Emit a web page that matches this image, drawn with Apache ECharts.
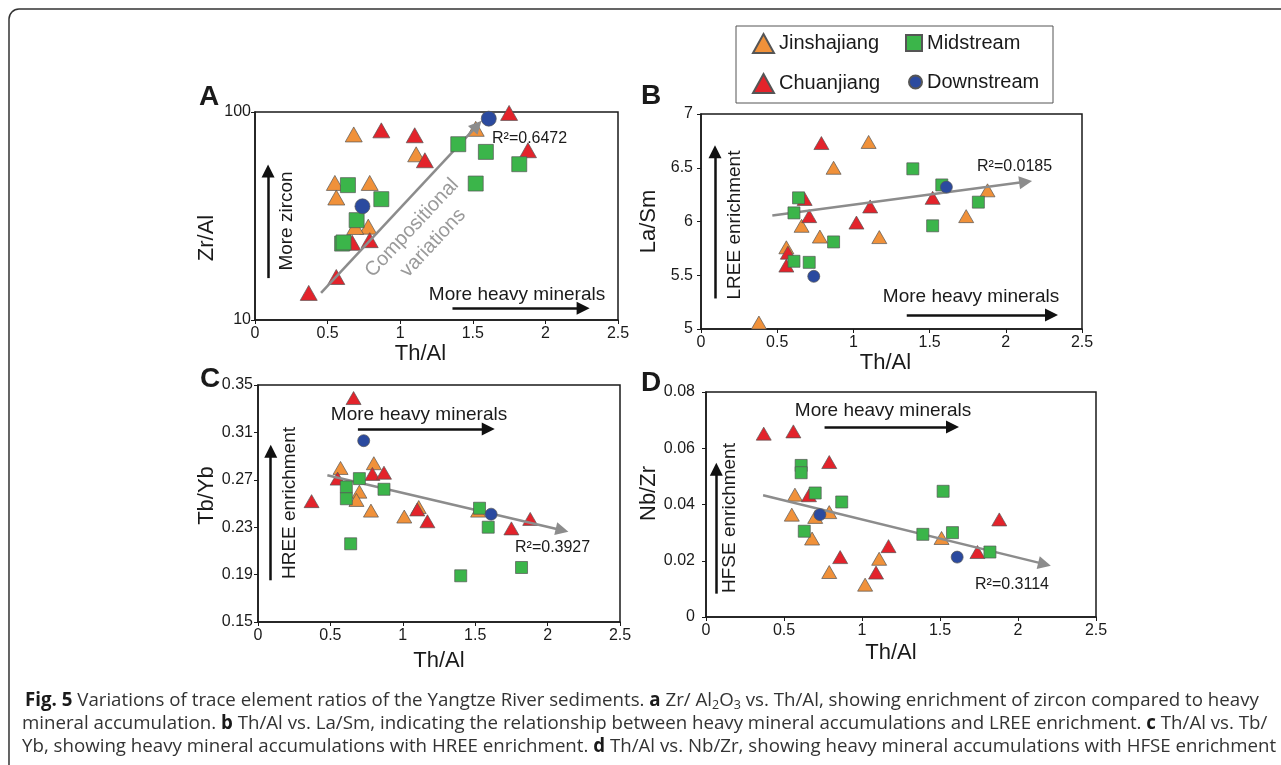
<!DOCTYPE html>
<html>
<head>
<meta charset="utf-8">
<script src="https://cdn.jsdelivr.net/npm/echarts@6.0.0/dist/echarts.min.js"></script>
<style>
  html, body { margin: 0; padding: 0; background: #fff; }
  #main { width: 1281px; height: 765px; }
</style>
</head>
<body>
<div id="main"></div>
<script>
var chartDom = document.getElementById('main');
var myChart = echarts.init(chartDom);
var option;

var FONT = 'Liberation Sans, Arial, Helvetica, sans-serif';
var CAP = 'Open Sans, Noto Sans, sans-serif';

var groups = ['Jinshajiang', 'Chuanjiang', 'Midstream', 'Downstream'];
var colors = ['#f0913a', '#e3232b', '#3bb54a', '#2b4a9f'];

// A: Zr/Al (log) vs Th/Al
var aJinshajiang = [[0.68, 78], [1.52, 83], [1.11, 62.6], [0.55, 45.6], [0.79, 45.6], [0.56, 38.8], [0.78, 28.1], [0.69, 28]];
var aChuanjiang = [[1.75, 99], [0.87, 81.6], [1.1, 77.3], [1.17, 58.6], [1.88, 65.5], [0.67, 23.5], [0.79, 24.2], [0.56, 16.1], [0.37, 13.5]];
var aMidstream = [[1.4, 70], [1.59, 64.3], [1.82, 56.1], [1.52, 45.3], [0.64, 44.5], [0.87, 38.1], [0.7, 30.2], [0.6, 23.3], [0.61, 23.6]];
var aDownstream = [[1.61, 92.9], [0.74, 35.2]];

// B: La/Sm vs Th/Al
var bJinshajiang = [[0.38, 5.06], [1.1, 6.74], [0.87, 6.5], [1.88, 6.29], [1.74, 6.05], [0.66, 5.96], [0.78, 5.86], [1.17, 5.855], [0.56, 5.76]];
var bChuanjiang = [[0.79, 6.73], [0.68, 6.21], [0.71, 6.05], [1.11, 6.14], [1.02, 5.99], [1.52, 6.22], [0.57, 5.71], [0.56, 5.59]];
var bMidstream = [[1.39, 6.49], [1.58, 6.34], [0.64, 6.22], [0.61, 6.08], [1.82, 6.18], [1.52, 5.96], [0.87, 5.81], [0.61, 5.63], [0.71, 5.62]];
var bDownstream = [[1.61, 6.32], [0.74, 5.49]];

// C: Tb/Yb vs Th/Al
var cJinshajiang = [[0.57, 0.280], [0.8, 0.284], [0.7, 0.260], [0.68, 0.253], [0.78, 0.244], [1.01, 0.239], [1.11, 0.247], [1.52, 0.244]];
var cChuanjiang = [[0.66, 0.339], [0.37, 0.252], [0.55, 0.271], [0.79, 0.275], [0.87, 0.276], [1.1, 0.245], [1.17, 0.235], [1.75, 0.229], [1.88, 0.237]];
var cMidstream = [[0.7, 0.271], [0.61, 0.264], [0.61, 0.254], [0.87, 0.262], [0.64, 0.216], [1.53, 0.246], [1.59, 0.23], [1.4, 0.189], [1.82, 0.196]];
var cDownstream = [[0.73, 0.303], [1.61, 0.241]];

// D: Nb/Zr vs Th/Al
var dJinshajiang = [[0.57, 0.0435], [0.55, 0.0364], [0.79, 0.0373], [0.7, 0.0356], [0.68, 0.0279], [1.51, 0.0281], [1.11, 0.0207], [0.79, 0.016], [1.02, 0.0115]];
var dChuanjiang = [[0.37, 0.0652], [0.56, 0.066], [0.79, 0.0551], [0.66, 0.0433], [1.88, 0.0347], [1.17, 0.0252], [0.86, 0.0213], [1.09, 0.0158], [1.74, 0.0231]];
var dMidstream = [[0.61, 0.0539], [0.61, 0.0513], [0.7, 0.0441], [0.87, 0.0409], [0.63, 0.0305], [1.52, 0.0447], [1.58, 0.03], [1.39, 0.0294], [1.82, 0.0231]];
var dDownstream = [[0.73, 0.0364], [1.61, 0.0213]];

// regression arrows (start, end) and R2 values
var trendA = [[0.455, 13.5], [1.53, 86]];
var trendB = [[0.468, 6.056], [2.13, 6.369]];
var trendC = [[0.479, 0.2739], [2.1, 0.2275]];
var trendD = [[0.366, 0.0433], [2.17, 0.0188]];
var r2Labels = ['R\u00b2=0.6472', 'R\u00b2=0.0185', 'R\u00b2=0.3927', 'R\u00b2=0.3114'];

var xTicks = ['0', '0.5', '1', '1.5', '2', '2.5'];
var yNames = ['Zr/Al', 'La/Sm', 'Tb/Yb', 'Nb/Zr'];

var panelData = [
  [aJinshajiang, aChuanjiang, aMidstream, aDownstream],
  [bJinshajiang, bChuanjiang, bMidstream, bDownstream],
  [cJinshajiang, cChuanjiang, cMidstream, cDownstream],
  [dJinshajiang, dChuanjiang, dMidstream, dDownstream]
];
var trends = [trendA, trendB, trendC, trendD];

// black annotation arrows, in data coords
var blackArrows = [
  [[[1.36, 11.4], [2.26, 11.4]], [[0.09, 15.9], [0.09, 52]]],
  [[[1.35, 5.13], [2.3, 5.13]], [[0.092, 5.284], [0.092, 6.65]]],
  [[[0.69, 0.3128], [1.59, 0.3128]], [[0.088, 0.1852], [0.088, 0.294]]],
  [[[0.76, 0.0676], [1.58, 0.0676]], [[0.066, 0.0083], [0.066, 0.0525]]]
];

var grids = [
  { left: 255, top: 112, width: 363, height: 208 },
  { left: 701, top: 114, width: 381, height: 215 },
  { left: 258, top: 385, width: 362, height: 237 },
  { left: 706, top: 392, width: 390, height: 225 }
];
var xNameGap = [21, 23, 28, 25];
var xNamePad = [[0, 32, 0, 0], [0, 12, 0, 0], [0, 0, 0, 0], [0, 20, 0, 0]];
var yNameGap = [37, 41, 40, 46];
var yNamePad = [[0, 44, 0, 0], [0, 0, 0, 0], [0, 0, 0, 16], [0, 0, 0, 22]];
var yLabelMargin = [4, 8, 5, 11];

var xAxes = grids.map(function (g, i) {
  return {
    gridIndex: i, type: 'value', min: 0, max: 2.5, interval: 0.5,
    name: 'Th/Al', nameLocation: 'middle', nameGap: xNameGap[i],
    nameTextStyle: { fontFamily: FONT, fontSize: 22, color: '#1a1a1a', verticalAlign: 'top', padding: xNamePad[i] },
    axisLine: { lineStyle: { color: '#1a1a1a', width: 1.5 } },
    axisTick: { length: 4, lineStyle: { color: '#1a1a1a' } },
    axisLabel: { fontFamily: FONT, fontSize: 16, color: '#1a1a1a', margin: 6,
      formatter: function (v) { return xTicks[Math.round(v / 0.5)]; } },
    splitLine: { show: false }
  };
});

var yAxes = [
  { type: 'log', logBase: 10, min: 10, max: 100 },
  { type: 'value', min: 5, max: 7, interval: 0.5 },
  { type: 'value', min: 0.15, max: 0.35, interval: 0.04,
    axisLabel: { formatter: function (v) { return v.toFixed(2); } } },
  { type: 'value', min: 0, max: 0.08, interval: 0.02,
    axisLabel: { formatter: function (v) { return v === 0 ? '0' : v.toFixed(2); } } }
].map(function (y, i) {
  return echarts.util.merge(y, {
    gridIndex: i,
    name: yNames[i], nameLocation: 'middle', nameGap: yNameGap[i], nameRotate: 90,
    nameTextStyle: { fontFamily: FONT, fontSize: 22, color: '#1a1a1a', padding: yNamePad[i] },
    axisLine: { show: true, lineStyle: { color: '#1a1a1a', width: 1.5 } },
    axisTick: { show: true, length: 4, lineStyle: { color: '#1a1a1a' } },
    axisLabel: { fontFamily: FONT, fontSize: 16, color: '#1a1a1a', margin: yLabelMargin[i] },
    splitLine: { show: false },
    minorTick: { show: false }
  });
});

function symbolFor(g, big) {
  if (g === 0 || g === 1) return { symbol: 'triangle', size: big ? [17, 15] : [15, 13] };
  if (g === 2) return { symbol: 'rect', size: big ? 15 : 12 };
  return { symbol: 'circle', size: big ? 15 : 12 };
}

var series = [];
panelData.forEach(function (sets, p) {
  sets.forEach(function (pts, g) {
    var sym = symbolFor(g, p === 0);
    var s = {
      name: groups[g], type: 'scatter', xAxisIndex: p, yAxisIndex: p,
      data: pts, symbol: sym.symbol, symbolSize: sym.size,
      itemStyle: { color: colors[g], borderColor: '#555', borderWidth: 0.7, opacity: 1 },
      emphasis: { disabled: true }, z: 3 + g
    };
    if (g === 0) {
      s.markLine = {
        silent: true, symbol: ['none', 'triangle'], symbolSize: 13,
        label: { show: false },
        lineStyle: { color: '#8c8c8c', width: 2.5, type: 'solid' },
        data: [[{ coord: trends[p][0] }, { coord: trends[p][1] }]]
      };
    }
    if (g === 1) {
      s.markLine = {
        silent: true, symbol: ['none', 'triangle'], symbolSize: 13,
        label: { show: false },
        lineStyle: { color: '#111', width: 2.5, type: 'solid' },
        data: blackArrows[p].map(function (a) { return [{ coord: a[0] }, { coord: a[1] }]; })
      };
    }
    series.push(s);
  });
});

function txt(x, y, text, size, opts) {
  opts = opts || {};
  return {
    type: 'text', x: x, y: y, rotation: opts.rot || 0, silent: true,
    style: {
      text: text, fontFamily: opts.font || FONT, fontSize: size,
      fontWeight: opts.bold ? 'bold' : 'normal', fill: opts.color || '#1a1a1a',
      align: opts.align || 'center', verticalAlign: 'middle'
    }
  };
}

var capRich = {
  b: { fontFamily: CAP, fontSize: 18.7, fontWeight: 'bold', fill: '#1a1a1a', lineHeight: 22, verticalAlign: 'middle' },
  s: { fontFamily: CAP, fontSize: 12.5, fill: '#333', lineHeight: 14, verticalAlign: 'bottom' }
};
function capLine(x, y, text) {
  return {
    type: 'text', x: x, y: y, silent: true,
    style: { text: text, rich: capRich, fontFamily: CAP, fontSize: 18.7, fill: '#333',
      lineHeight: 22, align: 'left', verticalAlign: 'middle' }
  };
}

var graphic = [
  { type: 'rect', silent: true, shape: { x: 9, y: 9, width: 1320, height: 820, r: 10 },
    style: { fill: 'none', stroke: '#333', lineWidth: 1.5 } },
  { type: 'rect', silent: true, shape: { x: 736, y: 26, width: 317, height: 77 },
    style: { fill: '#fff', stroke: '#555', lineWidth: 1 }, z: -1 },
  txt(209, 97, 'A', 28, { bold: true }),
  txt(651, 96, 'B', 28, { bold: true }),
  txt(210, 379, 'C', 28, { bold: true }),
  txt(651, 383, 'D', 28, { bold: true }),
  // panel A
  txt(517, 295, 'More heavy minerals', 19),
  txt(287, 221, 'More zircon', 19, { rot: Math.PI / 2 }),
  txt(412, 228, 'Compositional', 20, { rot: 0.82, color: '#9a9a9a' }),
  txt(433, 243, 'variations', 20, { rot: 0.82, color: '#9a9a9a' }),
  txt(492, 139, r2Labels[0], 16, { align: 'left' }),
  // panel B
  txt(971, 297, 'More heavy minerals', 19),
  txt(735, 225, 'LREE enrichment', 19, { rot: Math.PI / 2 }),
  txt(977, 167, r2Labels[1], 16, { align: 'left' }),
  // panel C
  txt(419, 415, 'More heavy minerals', 19),
  txt(290, 503, 'HREE enrichment', 19, { rot: Math.PI / 2 }),
  txt(515, 548, r2Labels[2], 16, { align: 'left' }),
  // panel D
  txt(883, 411, 'More heavy minerals', 19),
  txt(730, 518, 'HFSE enrichment', 19, { rot: Math.PI / 2 }),
  txt(975, 585, r2Labels[3], 16, { align: 'left' }),
  // caption
  capLine(25, 701, '{b|Fig. 5} Variations of trace element ratios of the Yangtze River sediments. {b|a} Zr/ Al{s|2}O{s|3} vs. Th/Al, showing enrichment of zircon compared to heavy'),
  capLine(22, 724, 'mineral accumulation. {b|b} Th/Al vs. La/Sm, indicating the relationship between heavy mineral accumulations and LREE enrichment. {b|c} Th/Al vs. Tb/'),
  capLine(22, 747, 'Yb, showing heavy mineral accumulations with HREE enrichment. {b|d} Th/Al vs. Nb/Zr, showing heavy mineral accumulations with HFSE enrichment')
];

var legendBase = {
  orient: 'vertical', selectedMode: false, itemGap: 19, padding: 0,
  textStyle: { fontFamily: FONT, fontSize: 20, color: '#1a1a1a', lineHeight: 20 }
};

option = {
  animation: false,
  backgroundColor: '#fff',
  grid: grids.map(function (g) {
    return { left: g.left, top: g.top, width: g.width, height: g.height,
      show: true, borderColor: '#1a1a1a', borderWidth: 1.5, backgroundColor: 'transparent' };
  }),
  xAxis: xAxes,
  yAxis: yAxes,
  legend: [
    echarts.util.merge({ left: 752, top: 33, itemWidth: 21, itemHeight: 19,
      data: [{ name: 'Jinshajiang', icon: 'triangle' }, { name: 'Chuanjiang', icon: 'triangle' }] }, legendBase),
    echarts.util.merge({ left: 905, top: 33, itemWidth: 16, itemHeight: 16,
      data: [{ name: 'Midstream', icon: 'rect' }] }, legendBase),
    echarts.util.merge({ left: 908, top: 72, itemWidth: 13, itemHeight: 13,
      data: [{ name: 'Downstream', icon: 'circle' }] }, legendBase)
  ],
  graphic: graphic,
  series: series
};

if (chartDom && myChart) {
  myChart.setOption(option);
} else {
  console.error('Failed to initialize the chart');
}
</script>
</body>
</html>
